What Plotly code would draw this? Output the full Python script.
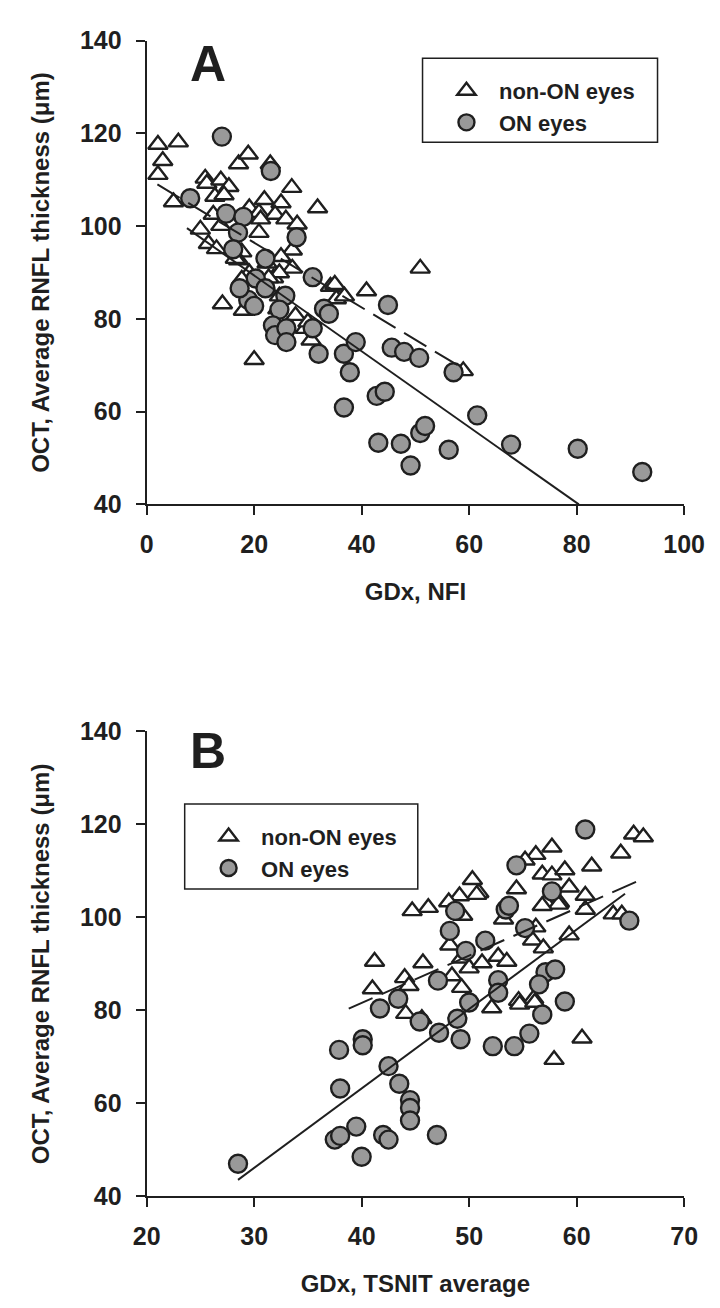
import plotly.graph_objects as go

# ---------------- Panel A data: GDx NFI vs OCT average RNFL ----------------
A_non_x = [2.1, 5.9, 3.0, 2.1, 5.0, 10.9, 11.2, 13.8, 15.3, 17.1, 18.9, 23.0, 27.0, 21.9, 25.0,
           31.8, 12.7, 14.4, 12.4, 19.1, 20.9, 23.9, 25.9, 28.0, 13.8, 21.2, 10.0, 11.5, 13.0, 20.9,
           27.1, 25.0, 22.4, 27.1, 17.7, 17.1, 34.2, 23.6, 14.1, 18.0, 20.0, 29.5, 30.6, 27.7,
           24.7, 24.4, 35.3, 50.9, 40.9, 35.0, 36.8, 58.9, 19.1, 17.7, 30.0, 24.7, 22.7, 16.5]
A_non_y = [117.6, 118.1, 114.1, 111.1, 105.2, 110.3, 109.2, 109.9, 108.5, 113.4, 115.5, 113.4, 108.3, 105.7, 105.0,
           103.9, 106.4, 106.7, 102.5, 103.9, 102.9, 102.5, 101.5, 100.4, 100.1, 101.5, 99.3, 96.2, 95.1, 98.6,
           94.8, 93.4, 92.0, 90.9, 94.4, 92.7, 87.0, 88.8, 83.2, 81.8, 71.2, 77.9, 75.4, 80.7,
           84.9, 82.1, 84.3, 90.9, 86.0, 87.4, 84.9, 68.8, 89.9, 88.5, 79.3, 89.9, 88.8, 93.0]

A_on_x = [14.0, 23.1, 8.1, 14.8, 18.0, 17.0, 16.1, 22.1, 20.3, 18.9, 17.3, 20.0, 25.8, 24.7, 23.5,
          23.9, 26.0, 26.0, 27.9, 30.9, 30.9, 32.0, 33.0, 33.9, 36.7, 37.8, 36.7, 38.9, 42.8, 44.9,
          44.3, 43.1, 45.6, 47.9, 47.3, 49.1, 50.7, 50.9, 51.8, 56.2, 57.1, 61.5, 67.8, 80.2, 92.2, 22.1]
A_on_y = [119.3, 111.9, 106.0, 102.7, 102.0, 98.6, 95.0, 93.0, 88.7, 84.1, 86.6, 82.8, 85.0, 82.0, 78.6,
          76.5, 78.0, 75.0, 97.6, 89.0, 78.0, 72.5, 82.2, 81.1, 72.5, 68.5, 60.9, 75.0, 63.4, 83.0,
          64.3, 53.3, 73.8, 72.9, 53.1, 48.4, 71.6, 55.4, 56.9, 51.8, 68.5, 59.2, 52.9, 52.0, 47.0, 86.6]

# regression lines (intercept, slope) and x extent
A_non_fit = (110.4, -0.698)
A_non_fit_x = [2.0, 58.0]
A_on_fit = (105.7, -0.817)
A_on_fit_x = [7.5, 80.4]

# ---------------- Panel B data: GDx TSNIT average vs OCT average RNFL ----------------
B_non_x = [65.3, 66.2, 64.1, 61.4, 57.7, 56.2, 55.2, 56.8, 57.7, 58.9, 59.3, 60.8, 58.4, 57.1, 60.8,
           54.4, 50.9, 63.4, 64.2, 50.3, 50.7, 49.1, 48.1, 46.2, 44.7, 58.3, 49.4, 53.2, 56.2, 55.9,
           56.9, 41.2, 45.7, 48.2, 49.3, 50.0, 51.2, 52.7, 53.5, 44.0, 44.4, 41.0, 48.4, 49.3, 54.6,
           56.0, 52.1, 44.1, 45.6, 54.7, 56.1, 60.5, 57.9, 59.3, 56.8]
B_non_y = [117.9, 117.3, 113.8, 111.0, 115.1, 113.5, 112.3, 109.3, 109.1, 110.2, 106.5, 104.7, 103.2, 103.2, 101.7,
           106.1, 105.3, 100.7, 100.7, 108.1, 104.9, 104.6, 103.3, 102.1, 101.4, 102.8, 100.4, 99.6, 97.9, 95.1,
           93.4, 90.5, 90.2, 94.0, 91.2, 89.1, 90.2, 91.6, 90.5, 87.0, 85.3, 84.6, 87.4, 84.9, 82.1,
           82.5, 80.5, 79.3, 78.2, 81.3, 81.7, 74.0, 69.4, 96.2, 102.5]

B_on_x = [60.8, 54.4, 57.7, 53.4, 53.7, 64.9, 55.2, 48.7, 48.2, 51.5, 49.7, 47.1, 43.4, 41.7, 52.7,
          52.7, 50.0, 57.1, 58.0, 56.5, 56.8, 58.9, 45.4, 48.9, 47.2, 49.2, 55.6, 54.2, 52.2, 37.9,
          40.1, 40.1, 38.0, 37.5, 38.0, 39.5, 40.0, 42.0, 42.5, 42.5, 43.5, 44.5, 44.5, 44.5, 47.0, 28.5]
B_on_y = [118.9, 111.2, 105.6, 101.7, 102.5, 99.3, 97.7, 101.4, 97.1, 95.0, 92.8, 86.4, 82.5, 80.4, 86.5,
          83.8, 81.7, 88.2, 88.8, 85.6, 79.1, 81.9, 77.6, 78.2, 75.2, 73.8, 75.0, 72.3, 72.3, 71.5,
          73.8, 72.5, 63.2, 52.2, 53.0, 55.0, 48.5, 53.2, 52.2, 68.0, 64.2, 60.7, 59.0, 56.3, 53.2, 47.0]

B_non_fit = (40.8, 1.02)
B_non_fit_x = [38.8, 66.2]
B_on_fit = (-5.2, 1.71)
B_on_fit_x = [28.5, 64.5]

A_xticks = [0, 20, 40, 60, 80, 100]
B_xticks = [20, 30, 40, 50, 60, 70]
Y_ticks = [40, 60, 80, 100, 120, 140]

DARK = "#1f1f1f"
GRAY = "#999999"
FONT = "Liberation Sans, Arial, Helvetica, sans-serif"
W, H = 720, 1308

fig = go.Figure()


def add_panel(nx, ny, ox, oy, nfit, nfx, ofit, ofx, xa, ya, leg):
    fig.add_trace(go.Scatter(
        x=nx, y=ny, mode="markers", name="non-ON eyes", xaxis=xa, yaxis=ya, legend=leg,
        marker=dict(symbol="triangle-up", size=17, color="white",
                    line=dict(color=DARK, width=2.4))))
    fig.add_trace(go.Scatter(
        x=ox, y=oy, mode="markers", name="ON eyes", xaxis=xa, yaxis=ya, legend=leg,
        marker=dict(symbol="circle", size=18, color=GRAY,
                    line=dict(color=DARK, width=2.4))))
    fig.add_trace(go.Scatter(
        x=nfx, y=[nfit[0] + nfit[1] * v for v in nfx], mode="lines",
        xaxis=xa, yaxis=ya, showlegend=False, hoverinfo="skip",
        line=dict(color=DARK, width=2, dash="26px,10px")))
    fig.add_trace(go.Scatter(
        x=ofx, y=[ofit[0] + ofit[1] * v for v in ofx], mode="lines",
        xaxis=xa, yaxis=ya, showlegend=False, hoverinfo="skip",
        line=dict(color=DARK, width=2)))


add_panel(A_non_x, A_non_y, A_on_x, A_on_y, A_non_fit, A_non_fit_x, A_on_fit, A_on_fit_x, "x", "y", "legend")
add_panel(B_non_x, B_non_y, B_on_x, B_on_y, B_non_fit, B_non_fit_x, B_on_fit, B_on_fit_x, "x2", "y2", "legend2")

x0, x1 = 131 / W, 696 / W
axis_common = dict(showline=True, linecolor=DARK, linewidth=2, ticks="outside", ticklen=9,
                   tickwidth=2, tickcolor=DARK, showgrid=False, zeroline=False,
                   tickfont=dict(family=FONT, size=25, color=DARK, weight="bold"))
title_font = dict(family=FONT, size=24, color=DARK, weight="bold")
legend_font = dict(family=FONT, size=22, color=DARK, weight="bold")

fig.update_layout(
    width=W, height=H, margin=dict(l=0, r=0, t=0, b=0),
    paper_bgcolor="white", plot_bgcolor="white",
    xaxis=dict(domain=[x0, x1], range=[0, 100], tickvals=A_xticks, anchor="y", ticklabelstandoff=8,
               title=dict(text="GDx, NFI", font=title_font, standoff=26), **axis_common),
    yaxis=dict(domain=[1 - 493 / H, 1 - 19 / H], range=[40, 140], tickvals=Y_ticks, anchor="x",
               ticklabelstandoff=9,
               title=dict(text="OCT, Average RNFL thickness (μm)", font=title_font, standoff=24), **axis_common),
    xaxis2=dict(domain=[x0, x1], range=[20, 70], tickvals=B_xticks, anchor="y2", ticklabelstandoff=8,
                title=dict(text="GDx, TSNIT average", font=title_font, standoff=26), **axis_common),
    yaxis2=dict(domain=[1 - 1200 / H, 1 - 725 / H], range=[40, 140], tickvals=Y_ticks, anchor="x2",
                ticklabelstandoff=9,
                title=dict(text="OCT, Average RNFL thickness (μm)", font=title_font, standoff=24), **axis_common),
    legend=dict(x=433 / W, y=1 - 49 / H, xanchor="left", yanchor="top", bgcolor="rgba(0,0,0,0)",
                borderwidth=0, itemwidth=55, font=legend_font),
    legend2=dict(x=183 / W, y=1 - 811 / H, xanchor="left", yanchor="top", bgcolor="rgba(0,0,0,0)",
                 borderwidth=0, itemwidth=55, font=legend_font),
    shapes=[
        dict(type="rect", xref="paper", yref="paper", x0=421 / W, x1=668 / W,
             y0=1 - 123 / H, y1=1 - 37 / H, line=dict(color=DARK, width=1.5), fillcolor="rgba(0,0,0,0)"),
        dict(type="rect", xref="paper", yref="paper", x0=171 / W, x1=416 / W,
             y0=1 - 886 / H, y1=1 - 799 / H, line=dict(color=DARK, width=1.5), fillcolor="rgba(0,0,0,0)"),
    ],
    annotations=[
        dict(text="A", xref="paper", yref="paper", x=196 / W, y=1 - 43 / H, showarrow=False,
             xanchor="center", yanchor="middle",
             font=dict(family=FONT, size=50, color=DARK, weight="bold")),
        dict(text="B", xref="paper", yref="paper", x=196 / W, y=1 - 745 / H, showarrow=False,
             xanchor="center", yanchor="middle",
             font=dict(family=FONT, size=50, color=DARK, weight="bold")),
    ],
)

fig.write_html("out.html")
